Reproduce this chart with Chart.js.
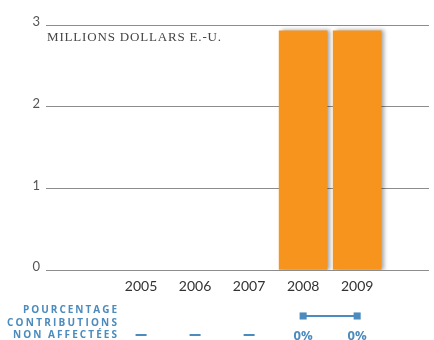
<!DOCTYPE html>
<html>
<head>
<meta charset="utf-8">
<script src="https://cdn.jsdelivr.net/npm/chart.js@4"></script>
<style>
  html, body { margin: 0; padding: 0; background: #fff; }
  #wrap { width: 434px; height: 340px; }
</style>
</head>
<body>
<div id="wrap"><canvas id="grafico"></canvas></div>
<script>
// Données
const annees = [2005, 2006, 2007, 2008, 2009];
const millionsUSD = [null, null, null, 2.93, 2.93];
const pctNonAffectees = [null, null, null, 0, 0];
const ticksY = [0, 1, 2, 3];

const bleu = '#4b8bbd';
const orange = '#f7941e';

// Ombre portée des barres + marqueurs de la ligne hors de la zone du graphique
const ombre = {
  id: 'ombre',
  beforeDatasetDraw(chart, args) {
    if (args.index !== 0) return;
    const ctx = chart.ctx;
    ctx.save();
    ctx.shadowColor = 'rgba(0,0,0,0.35)';
    ctx.shadowOffsetX = 3;
    ctx.shadowBlur = 4;
  },
  afterDatasetDraw(chart, args) {
    if (args.index === 0) {
      chart.ctx.restore();
      return;
    }
    // les points sont sous la zone du graphique : on les redessine sans clip
    const zone = { left: 0, top: 0, right: chart.width, bottom: chart.height };
    args.meta.data.forEach(p => p.draw(chart.ctx, zone));
  }
};

// texte justifié entre deux x (espacement des lettres ajusté)
function texteJustifie(ctx, txt, x0, x1, y) {
  ctx.letterSpacing = '0px';
  const w = ctx.measureText(txt).width;
  const esp = (x1 - x0 - w) / (txt.length - 1);
  ctx.letterSpacing = esp + 'px';
  ctx.textAlign = 'left';
  ctx.fillText(txt, x0, y);
}

// Textes : unité, légende du tableau, valeurs en %
const textes = {
  id: 'textes',
  afterDraw(chart) {
    const ctx = chart.ctx;
    const x = chart.scales.x;
    ctx.save();

    ctx.fillStyle = '#444';
    ctx.font = '13px "Liberation Serif"';
    ctx.textBaseline = 'alphabetic';
    texteJustifie(ctx, 'MILLIONS DOLLARS E.-U.', 47, 221, 41);

    ctx.fillStyle = bleu;
    ctx.font = 'bold 10px "Open Sans"';
    texteJustifie(ctx, 'POURCENTAGE', 23, 117, 313);
    texteJustifie(ctx, 'CONTRIBUTIONS', 7, 117, 325.5);
    texteJustifie(ctx, 'NON AFFECTÉES', 13, 117, 337.5);

    ctx.letterSpacing = '0px';
    ctx.textAlign = 'center';
    annees.forEach((a, i) => {
      const px = x.getPixelForValue(a);
      const v = pctNonAffectees[i];
      if (v === null) {
        ctx.fillRect(px - 5.5, 334, 11, 2);
      } else {
        ctx.font = 'bold 13px "Open Sans"';
        ctx.fillText(v + '%', px, 340);
      }
    });
    ctx.restore();
  }
};

new Chart(document.getElementById('grafico'), {
  data: {
    labels: annees,
    datasets: [
      {
        type: 'bar',
        data: millionsUSD,
        backgroundColor: orange,
        borderWidth: 0,
        barThickness: 48,
        yAxisID: 'y'
      },
      {
        type: 'line',
        data: pctNonAffectees,
        borderColor: bleu,
        borderWidth: 2,
        pointStyle: 'rect',
        pointRadius: 5,
        pointBorderWidth: 0,
        pointBackgroundColor: bleu,
        clip: false,
        yAxisID: 'y2'
      }
    ]
  },
  options: {
    responsive: true,
    maintainAspectRatio: false,
    animation: false,
    layout: { padding: { top: 25, right: 0, left: 0, bottom: 0 } },
    plugins: {
      legend: { display: false },
      tooltip: { enabled: false }
    },
    scales: {
      x: {
        type: 'linear',
        offset: false,
        min: 2003.24,
        max: 2010.33,
        afterBuildTicks: s => { s.ticks = annees.map(a => ({ value: a })); },
        afterFit: s => { s.height = 70; },
        grid: { display: false, drawTicks: false, offset: false },
        border: { display: false },
        ticks: {
          padding: 8,
          color: '#333',
          font: { family: 'Lato', size: 14 },
          callback: v => String(v)
        }
      },
      y: {
        min: 0,
        max: 3,
        afterBuildTicks: s => { s.ticks = ticksY.map(v => ({ value: v })); },
        afterFit: s => { s.width = 46; },
        grid: { color: '#8c8c8c', lineWidth: 1, drawTicks: false },
        border: { display: false },
        ticks: {
          padding: 6,
          labelOffset: -3,
          color: '#555',
          font: { family: 'Lato', size: 13 }
        }
      },
      y2: {
        display: false,
        min: 0.158,
        max: 1
      }
    }
  },
  plugins: [ombre, textes]
});
</script>
</body>
</html>
